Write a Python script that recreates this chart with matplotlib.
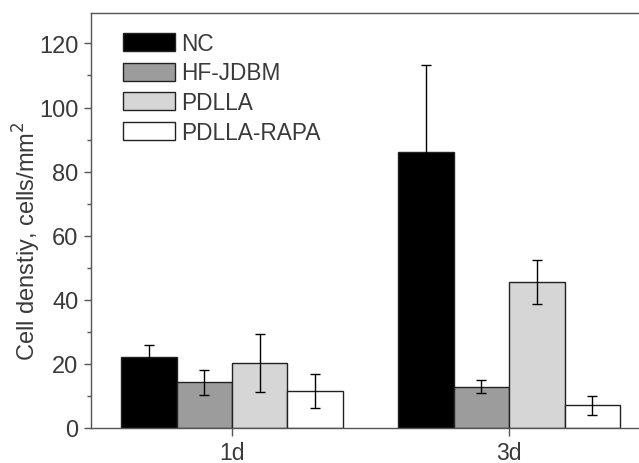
import matplotlib
matplotlib.use('Agg')
import matplotlib.pyplot as plt
import numpy as np

days = ['1d', '3d']
groups = ['NC', 'HF-JDBM', 'PDLLA', 'PDLLA-RAPA']
means = {
    'NC': [22.0, 86.1],
    'HF-JDBM': [14.2, 12.9],
    'PDLLA': [20.2, 45.6],
    'PDLLA-RAPA': [11.5, 7.1],
}
errs = {
    'NC': [4.0, 27.1],
    'HF-JDBM': [3.8, 2.1],
    'PDLLA': [9.0, 6.8],
    'PDLLA-RAPA': [5.2, 3.0],
}
colors = ['#000000', '#9c9c9c', '#d6d6d6', '#ffffff']

plt.rcParams['font.family'] = ['Liberation Sans', 'DejaVu Sans']
text_col = '#3a3a3a'

fig = plt.figure(figsize=(6.39, 4.64), dpi=100)
ax = fig.add_axes([91 / 639, 35 / 464, 554 / 639, 415 / 464])

x = np.arange(len(days))
w = 0.2
for i, g in enumerate(groups):
    pos = x + (i - 1.5) * w
    ax.bar(pos, means[g], width=w, color=colors[i], edgecolor='#222222',
           linewidth=1.0, label=g, zorder=2)
    ax.errorbar(pos, means[g], yerr=errs[g], fmt='none', ecolor='#000000',
                elinewidth=1.0, capsize=3.5, capthick=1.0, zorder=3)

ax.set_xlim(-0.509, 1.49)
ax.set_ylim(0, 129.5)
ax.set_xticks(x)
ax.set_xticklabels(days)
ax.set_yticks(np.arange(0, 121, 20))
ax.set_yticks(np.arange(10, 121, 20), minor=True)

for s in ['left', 'top', 'bottom', 'right']:
    ax.spines[s].set_color('#555555')
    ax.spines[s].set_linewidth(1.0)

ax.tick_params(axis='y', which='major', direction='out', length=5, width=1,
               color='#555555', labelsize=17, labelcolor=text_col, pad=4)
ax.tick_params(axis='y', which='minor', direction='out', length=3, width=1,
               color='#555555')
ax.tick_params(axis='x', which='major', direction='out', length=6, width=1,
               color='#555555', labelsize=16.5, labelcolor=text_col, pad=3.5)

ax.set_ylabel('Cell denstiy, cells/mm$^2$', fontsize=17, color=text_col)
ax.yaxis.set_label_coords(-0.087, 0.453)

leg = ax.legend(loc='upper left', bbox_to_anchor=(0.058, 0.955), frameon=False,
                fontsize=16.3, handlelength=2.3, handleheight=0.85,
                handletextpad=0.25, labelspacing=0.3, borderpad=0,
                borderaxespad=0)
for t in leg.get_texts():
    t.set_color(text_col)

fig.savefig('out.png', dpi=100)
